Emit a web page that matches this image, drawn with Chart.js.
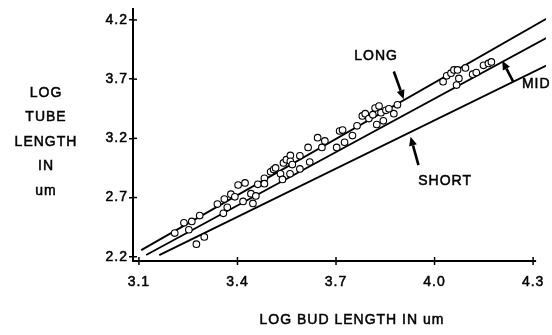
<!DOCTYPE html>
<html>
<head>
<meta charset="utf-8">
<script src="https://cdn.jsdelivr.net/npm/chart.js@4.4.1/dist/chart.umd.min.js"></script>
<style>
html,body{margin:0;padding:0;background:#fff;}
canvas{display:block;}
</style>
</head>
<body>
<canvas id="budChart" width="552" height="335"></canvas>
<script>
// log bud length (x) vs log tube length (y)
const budLog = [3.209,3.237,3.252,3.261,3.285,3.275,3.299,3.339,3.357,3.360,3.369,3.380,3.392,3.402,3.423,3.417,
    3.447,3.441,3.456,3.462,3.482,3.482,3.501,3.510,3.516,3.531,3.537,3.540,3.549,3.561,3.561,3.567,3.560,3.590,3.590,
    3.615,3.620,3.644,3.657,3.666,3.702,3.711,3.720,3.726,3.750,3.764,3.780,3.789,3.800,3.812,3.819,3.831,3.837,3.824,
    3.852,3.861,3.876,3.887,3.844,4.026,4.037,4.050,4.059,4.070,4.074,4.067,4.094,4.116,4.127,4.149,4.164,4.173];
const tubeLog = [2.400,2.487,2.428,2.498,2.548,2.306,2.367,2.645,2.567,2.687,2.617,2.728,2.706,2.806,2.823,2.667,
    2.650,2.733,2.714,2.812,2.862,2.817,2.917,2.937,2.950,2.900,2.853,2.992,3.020,3.056,3.006,2.978,2.900,3.053,2.942,
    3.123,3.000,3.206,3.123,3.178,3.123,3.262,3.270,3.167,3.223,3.306,3.389,3.408,3.367,3.400,3.456,3.473,3.417,3.317,
    3.437,3.450,3.408,3.483,3.348,3.678,3.728,3.750,3.778,3.778,3.706,3.650,3.795,3.742,3.756,3.817,3.833,3.845];

// regression lines: start / end points
const lineNames  = ["LONG", "MID", "SHORT"];
const lineX0 = [3.107, 3.122, 3.162];
const lineY0 = [2.256, 2.214, 2.214];
const lineX1 = [4.34, 4.34, 4.34];
const lineY1 = [4.21, 4.047, 3.814];

const xTicks = [3.1, 3.4, 3.7, 4.0, 4.3];
const yTicks = [2.2, 2.7, 3.2, 3.7, 4.2];

const yTitle = ["LOG", "TUBE", "LENGTH", "IN", "um"];
const xTitle = "LOG BUD LENGTH IN um";

// label text pos, arrow tail, arrow head (data units)
const notes = [
    {text: "LONG",  tx: 3.822, ty: 3.897, align: "center", ax: 3.876, ay: 3.764, hx: 3.906, hy: 3.531},
    {text: "MID",   tx: 4.266, ty: 3.656, align: "left",   ax: 4.239, ay: 3.681, hx: 4.206, hy: 3.856},
    {text: "SHORT", tx: 4.032, ty: 2.839, align: "center", ax: 3.951, ay: 2.973, hx: 3.927, hy: 3.214}
];

const FONT = '"Liberation Sans", Arial, sans-serif';

let points = [];
for (let i = 0; i < budLog.length; i++) {
    points.push({x: budLog[i], y: tubeLog[i]});
}

let dataSets = [];
dataSets[0] = {
    label: "buds",
    data: points,
    pointRadius: 3.3,
    pointBorderWidth: 1.1,
    pointBorderColor: "#000",
    pointBackgroundColor: "#fff",
    showLine: false
};
for (let i = 0; i < lineNames.length; i++) {
    dataSets.push({
        label: lineNames[i],
        data: [{x: lineX0[i], y: lineY0[i]}, {x: lineX1[i], y: lineY1[i]}],
        showLine: true,
        borderColor: "#000",
        borderWidth: 1.8,
        pointRadius: 0,
        fill: false
    });
}

function drawArrow(ctx, x1, y1, x2, y2) {
    const a = Math.atan2(y2 - y1, x2 - x1);
    const hl = 9, hw = 4;
    const bx = x2 - hl * Math.cos(a), by = y2 - hl * Math.sin(a);
    ctx.lineWidth = 2.6;
    ctx.beginPath();
    ctx.moveTo(x1, y1);
    ctx.lineTo(bx, by);
    ctx.stroke();
    ctx.beginPath();
    ctx.moveTo(x2, y2);
    ctx.lineTo(bx + hw * Math.sin(a), by - hw * Math.cos(a));
    ctx.lineTo(bx - hw * Math.sin(a), by + hw * Math.cos(a));
    ctx.closePath();
    ctx.fill();
}

function heavyText(ctx, t, x, y) {
    ctx.fillText(t, x, y);
    ctx.lineWidth = 0.5;
    ctx.strokeText(t, x, y);
}

const extras = {
    id: "extras",
    beforeDraw(chart) {
        chart.ctx.letterSpacing = "1px";
    },
    afterDraw(chart) {
        const ctx = chart.ctx, xs = chart.scales.x, ys = chart.scales.y;
        ctx.save();
        ctx.strokeStyle = "#000";
        ctx.fillStyle = "#000";

        // x axis line only runs a little past the last tick
        ctx.lineWidth = 2;
        ctx.beginPath();
        ctx.moveTo(ys.right - 1, xs.top);
        ctx.lineTo(xs.getPixelForValue(4.3) + 3, xs.top);
        ctx.stroke();

        // tick marks also cross into the plot
        ctx.lineWidth = 1.5;
        xTicks.forEach(v => {
            const px = xs.getPixelForValue(v);
            ctx.beginPath(); ctx.moveTo(px, xs.top + 4); ctx.lineTo(px, xs.top - 4); ctx.stroke();
        });
        yTicks.forEach(v => {
            const py = ys.getPixelForValue(v);
            ctx.beginPath(); ctx.moveTo(ys.right, py); ctx.lineTo(ys.right + 4, py); ctx.stroke();
        });

        ctx.font = "14px " + FONT;
        ctx.textBaseline = "middle";
        ctx.textAlign = "center";
        yTitle.forEach((t, i) => heavyText(ctx, t, 46, 93 + i * 24.5));
        heavyText(ctx, xTitle, 352, 320);

        notes.forEach(n => {
            ctx.textAlign = n.align;
            heavyText(ctx, n.text, xs.getPixelForValue(n.tx), ys.getPixelForValue(n.ty));
            drawArrow(ctx, xs.getPixelForValue(n.ax), ys.getPixelForValue(n.ay),
                xs.getPixelForValue(n.hx), ys.getPixelForValue(n.hy));
        });
        ctx.restore();
    }
};

new Chart(document.getElementById("budChart"), {
    type: "scatter",
    data: {datasets: dataSets},
    plugins: [extras],
    options: {
        responsive: false,
        animation: false,
        devicePixelRatio: 1,
        layout: {padding: {top: 6, right: 0, left: 0, bottom: 0}},
        plugins: {legend: {display: false}, tooltip: {enabled: false}},
        scales: {
            x: {
                type: "linear",
                min: 3.082,
                max: 4.339,
                afterBuildTicks: s => { s.ticks = xTicks.map(v => ({value: v})); },
                afterFit: s => { s.height = 74; },
                border: {display: false},
                grid: {display: false, drawTicks: true, tickLength: 4},
                ticks: {
                    color: "#000",
                    padding: 9,
                    maxRotation: 0,
                    textStrokeColor: "#000",
                    textStrokeWidth: 0.5,
                    font: {family: FONT, size: 14},
                    callback: v => Number(v).toFixed(1)
                }
            },
            y: {
                type: "linear",
                min: 2.164,
                max: 4.289,
                afterBuildTicks: s => { s.ticks = yTicks.map(v => ({value: v})); },
                afterFit: s => { s.width = 133; },
                border: {display: true, color: "#000", width: 2},
                grid: {drawOnChartArea: false, drawTicks: true, tickLength: 4, color: "#000", lineWidth: 1.5},
                ticks: {
                    color: "#000",
                    padding: 1,
                    textStrokeColor: "#000",
                    textStrokeWidth: 0.5,
                    font: {family: FONT, size: 14},
                    callback: v => Number(v).toFixed(1)
                }
            }
        }
    }
});
</script>
</body>
</html>
